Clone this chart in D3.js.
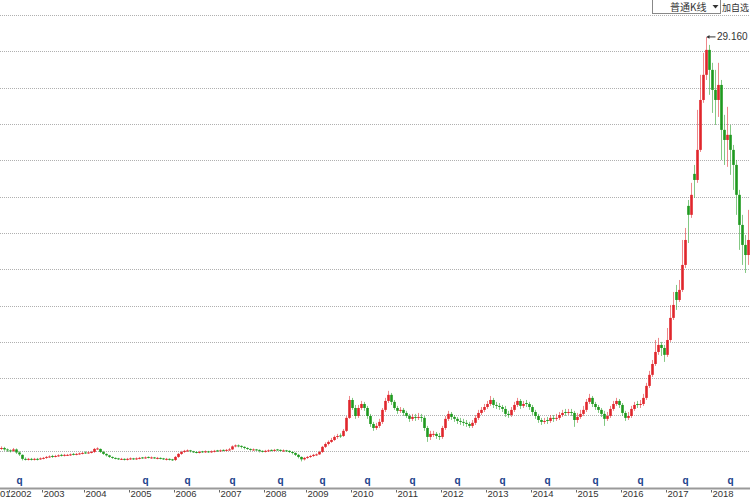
<!DOCTYPE html>
<html><head><meta charset="utf-8">
<script src="https://cdn.jsdelivr.net/npm/d3@7"></script>
<style>html,body{margin:0;padding:0;background:#fff;} svg{display:block;}</style>
</head><body><svg id="c" width="750" height="500"></svg>
<script>
const opens=[3.41,3.47,3.38,3.32,3.29,3.38,3.19,3.04,2.79,2.76,
2.79,2.76,2.79,2.76,2.82,2.85,2.91,2.97,2.94,2.97,
3.04,3.01,3.01,3.04,3.10,3.07,3.10,3.13,3.19,3.16,
3.19,3.22,3.41,3.41,3.22,3.10,3.01,2.91,2.85,2.82,
2.76,2.79,2.76,2.79,2.82,2.79,2.82,2.88,2.85,2.91,
2.85,2.88,2.82,2.85,2.82,2.76,2.79,2.76,2.72,2.91,
3.10,3.22,3.29,3.32,3.26,3.22,3.19,3.26,3.22,3.26,
3.22,3.26,3.32,3.29,3.35,3.32,3.35,3.38,3.57,3.63,
3.60,3.54,3.47,3.41,3.35,3.38,3.35,3.29,3.26,3.29,
3.35,3.32,3.38,3.35,3.29,3.32,3.29,3.22,3.16,3.04,
2.91,2.76,2.85,2.91,2.97,3.04,3.07,3.22,3.54,3.72,
3.85,3.97,4.16,4.25,4.22,4.54,5.35,6.47,5.97,5.47,
5.97,6.22,5.97,5.47,4.97,4.72,4.85,5.10,5.85,6.41,
6.79,6.35,5.97,5.79,5.85,5.66,5.47,5.29,5.41,5.35,
5.41,5.35,4.72,4.16,4.29,4.35,4.22,4.16,4.72,5.29,
5.60,5.41,5.29,5.16,5.10,5.04,4.97,4.85,5.04,5.35,
5.66,5.85,6.03,6.22,6.47,6.16,6.10,6.03,5.91,5.60,
5.53,5.85,6.16,6.41,6.10,6.28,6.22,6.03,5.72,5.47,
5.22,5.10,5.22,5.16,5.35,5.29,5.35,5.53,5.72,5.66,
5.72,5.66,5.22,5.41,5.60,5.85,6.35,6.60,6.22,6.03,
5.85,5.60,5.29,5.47,5.91,6.22,6.41,6.16,5.66,5.35,
5.47,5.91,6.22,6.16,6.22,6.60,7.35,8.04,8.72,9.47,
9.91,9.72,9.29,10.22,11.60,13.22,12.72,13.35,14.91,18.60,
18.04,20.60,20.22,22.10,25.22,26.79,28.35,27.10,25.85,25.22,
26.16,23.35,22.72,23.04,22.10,21.16,19.29,17.41,16.16,15.53];
const highs=[3.57,3.54,3.44,3.38,3.47,3.44,3.26,3.07,2.88,2.85,
2.85,2.85,2.85,2.88,2.91,2.97,3.01,3.04,3.04,3.07,
3.10,3.10,3.10,3.13,3.16,3.16,3.19,3.22,3.26,3.26,
3.29,3.47,3.51,3.44,3.29,3.13,3.04,2.94,2.88,2.85,
2.85,2.82,2.85,2.88,2.85,2.88,2.91,2.91,2.94,2.94,
2.94,2.91,2.91,2.88,2.85,2.85,2.82,2.79,2.97,3.16,
3.29,3.35,3.38,3.35,3.29,3.26,3.29,3.29,3.32,3.29,
3.32,3.35,3.35,3.38,3.38,3.41,3.47,3.63,3.69,3.69,
3.63,3.57,3.51,3.44,3.44,3.41,3.38,3.32,3.35,3.38,
3.38,3.41,3.41,3.38,3.38,3.35,3.32,3.26,3.19,3.10,
2.94,2.91,2.97,3.04,3.10,3.13,3.29,3.60,3.82,3.94,
4.10,4.25,4.35,4.38,4.66,5.47,6.72,6.60,6.16,6.16,
6.41,6.35,6.10,5.60,5.10,5.04,5.29,5.97,6.60,7.04,
6.91,6.47,6.10,6.03,5.97,5.79,5.60,5.60,5.60,5.66,
5.60,5.47,4.85,4.54,4.54,4.47,4.41,4.85,5.47,5.79,
5.72,5.53,5.41,5.35,5.29,5.22,5.10,5.22,5.53,5.85,
6.03,6.22,6.41,6.72,6.60,6.35,6.28,6.16,6.10,5.79,
6.03,6.35,6.60,6.53,6.41,6.47,6.35,6.16,5.85,5.60,
5.35,5.35,5.41,5.53,5.53,5.60,5.72,5.85,5.91,5.91,
5.91,5.79,5.66,5.85,6.10,6.53,6.85,6.72,6.35,6.16,
5.97,5.79,5.72,6.10,6.41,6.60,6.53,6.28,5.79,5.72,
6.10,6.35,6.41,6.47,6.85,7.54,8.29,8.97,10.22,10.35,
10.10,9.91,10.97,12.41,13.22,13.66,13.97,16.47,17.22,18.97,
20.04,21.16,24.60,26.79,28.16,29.16,28.66,27.54,27.10,27.54,
26.47,24.29,24.79,23.66,22.41,21.47,19.60,18.04,16.78,18.35];
const lows=[3.35,3.29,3.22,3.19,3.22,3.10,2.97,2.69,2.69,2.69,
2.69,2.69,2.69,2.72,2.76,2.79,2.85,2.85,2.88,2.91,
2.94,2.94,2.97,2.97,3.01,3.01,3.04,3.07,3.10,3.10,
3.13,3.16,3.35,3.16,3.04,2.94,2.85,2.79,2.76,2.72,
2.72,2.69,2.69,2.72,2.72,2.72,2.76,2.79,2.79,2.82,
2.79,2.79,2.76,2.76,2.72,2.69,2.69,2.66,2.66,2.85,
3.04,3.16,3.22,3.19,3.16,3.13,3.13,3.16,3.16,3.16,
3.16,3.19,3.22,3.22,3.26,3.26,3.29,3.35,3.51,3.51,
3.44,3.38,3.35,3.29,3.29,3.29,3.19,3.19,3.19,3.22,
3.26,3.26,3.29,3.26,3.22,3.22,3.16,3.07,2.97,2.82,
2.63,2.69,2.79,2.85,2.91,2.97,3.04,3.16,3.47,3.63,
3.79,3.91,4.04,4.10,4.16,4.47,5.29,5.85,5.29,5.35,
5.85,5.79,5.29,4.79,4.54,4.60,4.72,4.97,5.72,6.28,
6.16,5.85,5.60,5.66,5.47,5.35,5.10,5.16,5.16,5.22,
5.10,4.54,3.85,3.97,4.16,4.04,3.97,4.04,4.60,5.16,
5.22,5.10,4.97,4.91,4.85,4.79,4.72,4.72,4.91,5.22,
5.53,5.72,5.91,6.10,5.97,5.91,5.85,5.72,5.41,5.35,
5.41,5.72,6.03,5.91,5.97,6.03,5.85,5.53,5.29,5.04,
4.91,4.97,4.97,5.04,5.10,5.16,5.22,5.41,5.47,5.53,
5.47,4.79,5.04,5.29,5.47,5.72,6.22,6.03,5.85,5.66,
5.41,4.85,5.16,5.35,5.79,6.10,5.97,5.47,5.16,5.22,
5.35,5.79,5.97,5.97,6.10,6.47,7.22,7.91,8.60,9.29,
9.22,8.85,9.16,10.10,11.47,12.10,12.60,13.22,14.72,16.28,
17.85,19.10,20.04,21.97,25.04,26.47,25.54,24.41,23.66,24.16,
21.47,21.16,21.04,20.54,19.60,18.04,15.85,14.91,14.41,14.91];
const closes=[3.47,3.38,3.32,3.29,3.38,3.19,3.07,2.79,2.76,2.79,
2.76,2.79,2.76,2.82,2.85,2.91,2.94,2.94,2.97,3.01,
3.01,3.04,3.04,3.07,3.07,3.10,3.13,3.16,3.16,3.19,
3.22,3.41,3.44,3.22,3.10,3.01,2.91,2.85,2.82,2.79,
2.79,2.76,2.79,2.82,2.79,2.82,2.85,2.85,2.88,2.88,
2.88,2.85,2.85,2.82,2.79,2.79,2.76,2.72,2.91,3.10,
3.22,3.29,3.32,3.26,3.22,3.19,3.22,3.22,3.26,3.22,
3.26,3.29,3.29,3.32,3.32,3.35,3.38,3.57,3.63,3.60,
3.54,3.47,3.41,3.35,3.38,3.35,3.29,3.26,3.29,3.32,
3.32,3.35,3.35,3.32,3.32,3.29,3.22,3.16,3.04,2.91,
2.76,2.85,2.91,2.97,3.04,3.07,3.22,3.54,3.72,3.85,
3.97,4.16,4.22,4.22,4.54,5.35,6.47,5.97,5.47,5.97,
6.22,5.97,5.47,4.97,4.72,4.85,5.10,5.85,6.41,6.79,
6.35,5.97,5.79,5.85,5.66,5.47,5.29,5.41,5.35,5.41,
5.35,4.72,4.16,4.35,4.35,4.22,4.16,4.72,5.29,5.60,
5.41,5.29,5.16,5.10,5.04,4.97,4.85,5.04,5.35,5.66,
5.85,6.03,6.22,6.47,6.16,6.10,6.03,5.91,5.60,5.53,
5.85,6.16,6.41,6.10,6.22,6.22,6.03,5.72,5.47,5.22,
5.10,5.16,5.16,5.35,5.29,5.35,5.53,5.66,5.66,5.72,
5.66,5.22,5.41,5.60,5.85,6.35,6.60,6.22,6.03,5.85,
5.60,5.29,5.47,5.91,6.22,6.41,6.16,5.66,5.35,5.47,
5.91,6.16,6.16,6.22,6.60,7.35,8.04,8.72,9.47,9.91,
9.72,9.29,10.22,11.60,12.41,12.72,13.35,14.91,16.47,18.04,
19.29,20.22,22.10,25.22,26.79,28.35,27.10,25.85,25.22,26.16,
23.35,22.72,23.04,22.10,21.16,19.29,17.41,16.16,15.53,16.47];

const yearLabels=["2001","2002","2003","2004","2005","2006","2007","2008","2009","2010","2011","2012","2013","2014","2015","2016","2017","2018"];
const yearStartIndex=[-4,3,14,28,43,58,73,88,102,117,132,147,162,177,192,207,222,237];
const dividendIndex=[6,48,62,77,93,107,122,137,152,167,182,198,213,228,243];
const dividendMark="q";
const chartTypeLabel="普通K线";
const addLabel="加自选";
const priceDomain=[1.0,30.53];
const gridCount=13;

const W=750,H=500;
const N=closes.length;
const svg=d3.select("#c");
const x=d3.scaleLinear().domain([0,N]).range([0,W]);
const y=d3.scaleLinear().domain(priceDomain).range([487.5,15]);
const cx=i=>x(i+0.5);

// grid
const gridVals=d3.range(1,gridCount+1).map(k=>priceDomain[0]+k*(priceDomain[1]-priceDomain[0])/gridCount);
svg.append("g").selectAll("line").data(gridVals).join("line")
  .attr("x1",0).attr("x2",W)
  .attr("y1",d=>Math.round(y(d))+0.5).attr("y2",d=>Math.round(y(d))+0.5)
  .attr("stroke","#b0b0b0").attr("stroke-width",1).attr("stroke-dasharray","1,1");

// candles
const data=closes.map((c,i)=>({i,o:opens[i],h:highs[i],l:lows[i],c}));
const upCol="#e0262c", dnCol="#1f9a1f";
const g=svg.append("g");
g.selectAll("line.w").data(data).join("line").attr("class","w")
  .attr("x1",d=>cx(d.i)).attr("x2",d=>cx(d.i))
  .attr("y1",d=>y(d.h)).attr("y2",d=>y(d.l))
  .attr("stroke",d=>d.c>=d.o?upCol:dnCol).attr("stroke-opacity",0.55).attr("stroke-width",1);
g.selectAll("rect.b").data(data).join("rect").attr("class","b")
  .attr("x",d=>cx(d.i)-1.3).attr("width",2.6)
  .attr("y",d=>y(Math.max(d.o,d.c)))
  .attr("height",d=>Math.max(1,Math.abs(y(d.o)-y(d.c))))
  .attr("fill",d=>d.c>=d.o?upCol:dnCol);

// max label
const mi=d3.maxIndex(highs);
const my=y(highs[mi]);
const mx=cx(mi);
svg.append("line").attr("x1",mx+1).attr("x2",mx+9).attr("y1",my).attr("y2",my).attr("stroke","#333").attr("stroke-width",1);
svg.append("path").attr("d",`M${mx},${my} L${mx+3},${my-1.8} L${mx+3},${my+1.8} Z`).attr("fill","#333");
svg.append("text").attr("x",mx+10.5).attr("y",my+3.5).text(d3.format(".3f")(highs[mi]))
  .attr("font-family","Arial, 'Liberation Sans', sans-serif").attr("font-size",10).attr("fill","#333");

// x axis
svg.append("line").attr("x1",0).attr("x2",W).attr("y1",488.5).attr("y2",488.5).attr("stroke","#9a9a9a").attr("stroke-width",2);
const yr=svg.append("g");
yearLabels.forEach((lab,k)=>{
  const xx=Math.round(x(yearStartIndex[k]))+0.5;
  yr.append("line").attr("x1",xx).attr("x2",xx).attr("y1",490).attr("y2",492.5).attr("stroke","#666");
  yr.append("text").attr("x",xx+1).attr("y",497).text(lab)
    .attr("font-family","Arial, 'Liberation Sans', sans-serif").attr("font-size",9.5).attr("fill","#333");
});
svg.append("g").selectAll("text").data(dividendIndex).join("text")
  .attr("x",d=>cx(d)).attr("y",484).attr("text-anchor","middle").text(dividendMark)
  .attr("font-family","Arial, 'Liberation Sans', sans-serif").attr("font-weight","bold").attr("font-size",10).attr("fill","#1c3f8c");

// top-right controls
const tb=svg.append("g");
tb.append("rect").attr("x",652.5).attr("y",-0.5).attr("width",68).attr("height",14).attr("fill","#fff").attr("stroke","#888");
tb.append("text").attr("x",670).attr("y",10.5).text(chartTypeLabel)
  .attr("font-family","'Noto Sans CJK SC', sans-serif").attr("font-size",10).attr("fill","#333");
tb.append("path").attr("d","M712.5,5 L718.5,5 L715.5,8.5 Z").attr("fill","#333");
tb.append("text").attr("x",722).attr("y",10.5).text(addLabel)
  .attr("font-family","'Noto Sans CJK SC', sans-serif").attr("font-size",9).attr("fill","#333");
</script></body></html>
